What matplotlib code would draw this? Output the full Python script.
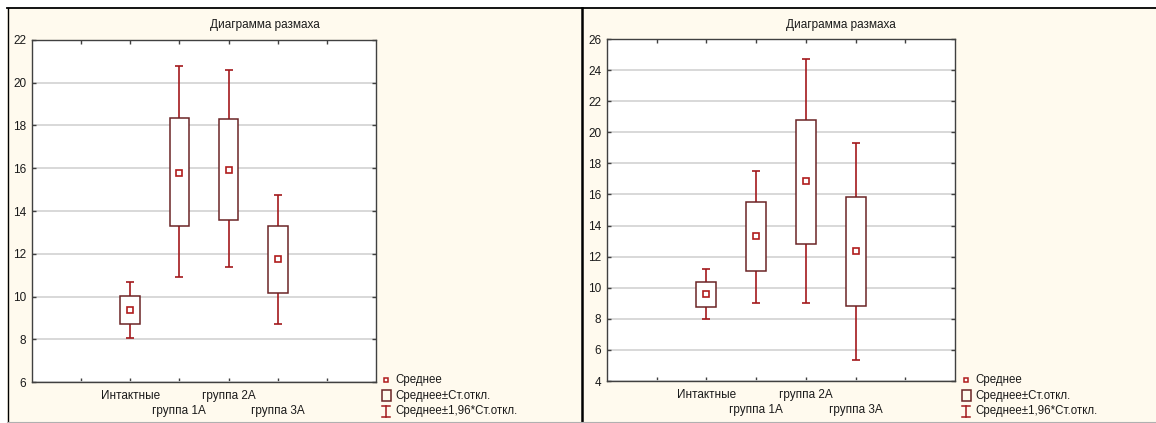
import matplotlib
matplotlib.use('Agg')
import matplotlib.pyplot as plt
from matplotlib.patches import Rectangle
from matplotlib.lines import Line2D

plt.rcParams['font.family'] = ['Liberation Sans', 'DejaVu Sans']

W, H = 1156, 423

categories = ['Интактные', 'группа 1А', 'группа 2А', 'группа 3А']
title = 'Диаграмма размаха'
legend_labels = ['Среднее', 'Среднее±Ст.откл.', 'Среднее±1,96*Ст.откл.']

# left chart
left_mean = [9.37, 15.8, 15.93, 11.75]
left_sd_low = [8.73, 13.28, 13.59, 10.18]
left_sd_high = [10.0, 18.36, 18.31, 13.29]
left_ci_low = [8.06, 10.9, 11.36, 8.73]
left_ci_high = [10.66, 20.77, 20.58, 14.77]
left_yticks = list(range(6, 23, 2))

# right chart
right_mean = [9.59, 13.3, 16.87, 12.38]
right_sd_low = [8.77, 11.05, 12.83, 8.8]
right_sd_high = [10.4, 15.5, 20.8, 15.86]
right_ci_low = [7.98, 9.01, 9.01, 5.33]
right_ci_high = [11.2, 17.51, 24.71, 19.32]
right_yticks = list(range(4, 27, 2))

bg = '#fffaee'
box_col = '#6b2426'
whisk_col = '#a3191c'
mean_col = '#b01c1c'
txt_col = '#1a1a1a'


def fx(px):
    return px / W


def fy(py):
    return 1 - py / H


fig = plt.figure(figsize=(W / 100, H / 100), dpi=100, facecolor='white')

# panel backgrounds and frame
fig.patches.append(Rectangle((fx(7), fy(422)), fx(575), 414 / H, transform=fig.transFigure,
                             facecolor=bg, edgecolor='none', zorder=-5))
fig.patches.append(Rectangle((fx(583), fy(422)), fx(573), 414 / H, transform=fig.transFigure,
                             facecolor=bg, edgecolor='none', zorder=-5))
fig.lines.append(Line2D([fx(7), 1], [fy(8), fy(8)], transform=fig.transFigure, color='black', lw=1.3))
fig.lines.append(Line2D([fx(7.5), fx(7.5)], [fy(8), fy(422)], transform=fig.transFigure, color='black', lw=1.0))
fig.lines.append(Line2D([fx(582), fx(582)], [fy(8), 0], transform=fig.transFigure, color='black', lw=1.8))
fig.lines.append(Line2D([fx(7), 1], [fy(422), fy(422)], transform=fig.transFigure, color='#b0b0b0', lw=0.8))


def draw_panel(rect, means, sd_lo, sd_hi, ci_lo, ci_hi, yticks, title_x, leg_x):
    x0, y0, x1, y1 = rect
    ax = fig.add_axes([fx(x0), fy(y1), (x1 - x0) / W, (y1 - y0) / H])
    ax.set_zorder(1)
    ax.set_facecolor('white')
    pos = [2, 3, 4, 5]
    bw = 0.4
    cap = 0.16
    for p, m, sl, sh, cl, ch in zip(pos, means, sd_lo, sd_hi, ci_lo, ci_hi):
        ax.vlines(p, cl, sl, color=whisk_col, lw=1.2, zorder=2)
        ax.vlines(p, sh, ch, color=whisk_col, lw=1.2, zorder=2)
        ax.hlines([cl, ch], p - cap / 2, p + cap / 2, color=whisk_col, lw=1.2, zorder=2)
        ax.add_patch(Rectangle((p - bw / 2, sl), bw, sh - sl, facecolor='white',
                               edgecolor=box_col, lw=1.1, zorder=3))
    ax.plot(pos, means, 's', ms=4, mfc='white', mec=mean_col, mew=1.2, ls='none', zorder=4)

    ax.set_xlim(0, 7)
    ax.set_ylim(yticks[0], yticks[-1])
    ax.set_yticks(yticks)
    ax.set_xticks([1, 2, 3, 4, 5, 6])
    ax.set_xticklabels([])
    ax.grid(axis='y', color='#d6d6d6', lw=1.3, zorder=0)
    ax.set_axisbelow(True)
    ax.tick_params(direction='in', length=3, width=1, color='#404040', top=True, right=True,
                   labelsize=8.5, labelcolor=txt_col, pad=4)
    for s in ax.spines.values():
        s.set_color('#404040')
        s.set_linewidth(1.0)

    # staggered category labels
    for i, (p, lab) in enumerate(zip(pos, categories)):
        ax.text(p, -0.023 if i % 2 == 0 else -0.068, lab, transform=ax.get_xaxis_transform(),
                ha='center', va='top', fontsize=8.5, color=txt_col)

    fig.text(fx(title_x), fy(25), title, ha='center', va='center', fontsize=8.5, color=txt_col)

    # legend
    lx = leg_x
    fig.lines.append(Line2D([fx(lx)], [fy(380)], transform=fig.transFigure, marker='s', ms=3.5,
                            mfc='white', mec=mean_col, mew=1.1, ls='none'))
    fig.patches.append(Rectangle((fx(lx - 4), fy(401)), 9 / W, 11 / H, transform=fig.transFigure,
                                 facecolor='none', edgecolor=box_col, lw=1.1))
    fig.lines.append(Line2D([fx(lx), fx(lx)], [fy(406), fy(417)], transform=fig.transFigure,
                            color=whisk_col, lw=1.1))
    fig.lines.append(Line2D([fx(lx - 4), fx(lx + 4)], [fy(406), fy(406)], transform=fig.transFigure,
                            color=whisk_col, lw=1.1))
    fig.lines.append(Line2D([fx(lx - 4), fx(lx + 4)], [fy(417), fy(417)], transform=fig.transFigure,
                            color=whisk_col, lw=1.1))
    for k, (lab, yy) in enumerate(zip(legend_labels, [380, 396, 411])):
        fig.text(fx(lx + 9), fy(yy), lab, ha='left', va='center', fontsize=8.3, color=txt_col)
    return ax


draw_panel((32, 40, 376, 382), left_mean, left_sd_low, left_sd_high, left_ci_low, left_ci_high,
           left_yticks, 265, 386)
draw_panel((607, 39, 955, 381), right_mean, right_sd_low, right_sd_high, right_ci_low, right_ci_high,
           right_yticks, 841, 966)

plt.savefig('out.png', dpi=100, facecolor='white')
